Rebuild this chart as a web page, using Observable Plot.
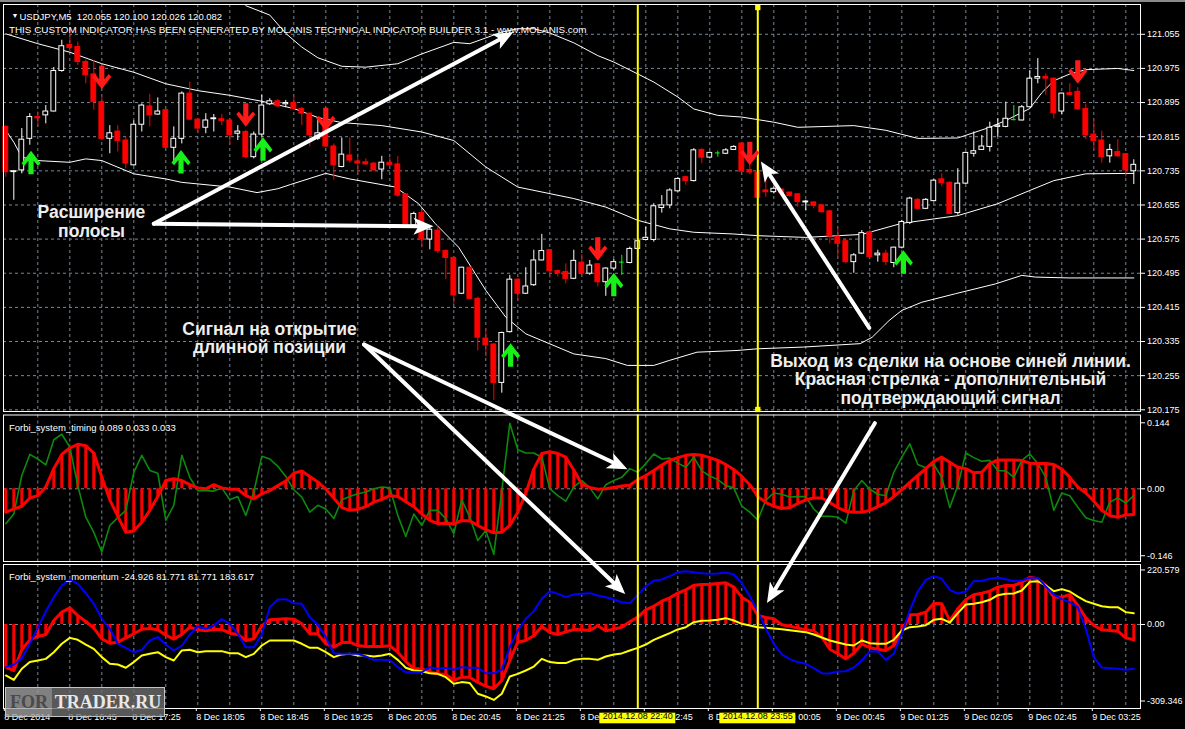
<!DOCTYPE html>
<html><head><meta charset="utf-8">
<script src="https://cdn.jsdelivr.net/npm/d3@7"></script>
<script src="https://cdn.jsdelivr.net/npm/@observablehq/plot@0.6"></script>
<style>
html,body{margin:0;padding:0;background:#000;}
#chart{position:relative;width:1185px;height:729px;background:#000;overflow:hidden;}
#chart svg{position:absolute;left:0;overflow:visible;}
#topstrip{position:absolute;left:0;top:0;width:1185px;height:2px;background:#8a8a8a;}
#wm{position:absolute;left:5px;top:687px;width:160px;height:30px;border:1px solid #c4c4c4;box-sizing:border-box;display:flex;font-family:"Liberation Serif",serif;font-weight:bold;font-size:18px;line-height:28px;z-index:5;}
#wm .a{width:46px;background:rgba(160,160,160,0.8);color:#4a4a4a;text-align:center;}
#wm .b{flex:1;background:rgba(110,110,110,0.8);color:#e8e8e8;text-align:center;}
</style></head><body><div id="chart"><div id="topstrip"></div></div>
<script>
// ---------- candles (USDJPY M5, bar 0 = 8 Dec 16:05) ----------
const open = [120.838,120.732,120.736,120.810,120.861,120.865,120.874,120.969,121.030,121.025,
120.990,120.961,120.896,120.810,120.827,120.806,120.748,120.843,120.886,120.867,
120.877,120.789,120.810,120.916,120.855,120.836,120.856,120.856,120.853,120.822,
120.826,120.767,120.820,120.891,120.898,120.891,120.894,120.880,120.869,120.810,
120.857,120.792,120.744,120.771,120.757,120.755,120.752,120.738,120.754,120.750,
120.680,120.607,120.636,120.574,120.595,120.547,120.531,120.447,120.508,120.435,
120.342,120.328,120.238,120.357,120.480,120.447,120.467,120.525,120.549,120.500,
120.498,120.482,120.520,120.494,120.516,120.474,120.506,120.521,120.519,120.552,
120.573,120.573,120.648,120.654,120.687,120.720,120.711,120.784,120.766,120.777,
120.775,120.784,120.799,120.737,120.731,120.689,120.685,120.691,120.684,120.680,
120.661,120.661,120.654,120.640,120.581,120.570,120.521,120.541,120.591,120.537,
120.541,120.519,120.555,120.613,120.667,120.646,120.664,120.715,120.707,120.636,
120.705,120.775,120.784,120.791,120.838,120.838,120.855,120.853,120.884,120.951,
120.955,120.951,120.874,120.917,120.920,120.880,120.820,120.806,120.769,120.779,
120.774,120.734];
const high = [120.841,120.736,120.834,120.869,120.873,120.888,120.977,121.041,121.068,121.037,
120.995,120.994,120.912,120.841,120.841,120.814,120.852,120.892,120.914,120.906,
120.878,120.838,120.920,120.943,120.857,120.869,120.867,120.867,120.857,120.841,
120.830,120.826,120.912,120.904,120.902,120.900,120.908,120.884,120.870,120.857,
120.861,120.798,120.812,120.812,120.766,120.763,120.755,120.769,120.765,120.769,
120.681,120.638,120.644,120.603,120.607,120.550,120.533,120.509,120.509,120.439,
120.365,120.330,120.357,120.490,120.482,120.508,120.549,120.586,120.550,120.503,
120.517,120.549,120.539,120.525,120.517,120.508,120.527,120.537,120.556,120.576,
120.603,120.658,120.677,120.693,120.719,120.722,120.787,120.787,120.779,120.781,
120.787,120.794,120.800,120.760,120.782,120.720,120.697,120.693,120.685,120.681,
120.666,120.662,120.656,120.642,120.599,120.576,120.541,120.595,120.595,120.549,
120.549,120.556,120.619,120.673,120.670,120.670,120.714,120.728,120.709,120.740,
120.779,120.826,120.818,120.849,120.857,120.896,120.888,120.888,120.969,120.998,
120.962,120.953,120.917,120.939,120.930,120.891,120.855,120.828,120.797,120.808,
120.775,120.761];
const low = [120.720,120.666,120.728,120.795,120.838,120.845,120.873,120.966,121.013,120.982,
120.939,120.877,120.806,120.775,120.779,120.740,120.746,120.826,120.838,120.865,
120.787,120.755,120.798,120.853,120.822,120.822,120.826,120.841,120.795,120.806,
120.763,120.763,120.814,120.888,120.883,120.883,120.877,120.841,120.791,120.806,
120.789,120.713,120.742,120.753,120.727,120.748,120.734,120.714,120.745,120.673,
120.607,120.602,120.555,120.550,120.541,120.480,120.422,120.445,120.433,120.313,
120.299,120.197,120.214,120.355,120.430,120.445,120.464,120.524,120.484,120.486,
120.470,120.480,120.488,120.490,120.463,120.441,120.502,120.490,120.517,120.533,
120.572,120.568,120.636,120.646,120.685,120.701,120.709,120.752,120.763,120.767,
120.773,120.783,120.731,120.726,120.668,120.673,120.681,120.681,120.673,120.650,
120.642,120.646,120.636,120.564,120.529,120.517,120.495,120.539,120.529,120.521,
120.513,120.508,120.552,120.609,120.644,120.644,120.662,120.698,120.633,120.631,
120.703,120.767,120.783,120.779,120.814,120.836,120.852,120.852,120.883,120.939,
120.912,120.857,120.867,120.912,120.877,120.808,120.783,120.753,120.753,120.767,
120.720,120.703];
const close = [120.732,120.734,120.808,120.861,120.858,120.874,120.969,121.027,121.023,120.990,
120.959,120.896,120.810,120.823,120.805,120.752,120.843,120.888,120.865,120.874,
120.789,120.810,120.916,120.855,120.834,120.853,120.858,120.852,120.818,120.827,
120.767,120.820,120.888,120.898,120.886,120.894,120.880,120.869,120.818,120.823,
120.792,120.748,120.773,120.759,120.752,120.750,120.736,120.754,120.748,120.677,
120.609,120.634,120.574,120.597,120.547,120.531,120.443,120.508,120.435,120.344,
120.326,120.238,120.355,120.480,120.447,120.464,120.525,120.547,120.500,120.495,
120.482,120.524,120.494,120.513,120.474,120.506,120.521,120.521,120.552,120.570,
120.578,120.652,120.654,120.689,120.716,120.711,120.783,120.766,120.777,120.777,
120.783,120.791,120.733,120.731,120.672,120.685,120.693,120.683,120.676,120.662,
120.663,120.653,120.638,120.581,120.564,120.521,120.537,120.589,120.533,120.541,
120.521,120.555,120.615,120.670,120.646,120.667,120.712,120.706,120.634,120.705,
120.777,120.781,120.792,120.836,120.841,120.857,120.855,120.884,120.951,120.955,
120.951,120.870,120.916,120.913,120.879,120.818,120.805,120.767,120.784,120.769,
120.736,120.749];

// ---------- bands (bar index / price) ----------
const upperBar = [30,33,35,37,39,42,45,49,52,56,58,62,64,66,68,71,74,76,79,81,84,86,89,92,94,96,99,106,110,114,119,123,125,128,129.5,131,133,135,139,141];
const upperVal = [121.122,121.100,121.057,121.025,121.000,120.980,120.978,120.986,121.009,121.036,121.033,121.060,121.068,121.068,121.058,121.035,121.005,120.990,120.962,120.943,120.908,120.880,120.865,120.861,120.855,120.849,120.837,120.841,120.830,120.811,120.812,120.837,120.853,120.881,120.918,120.946,120.962,120.972,120.975,120.970];
const middleBar = [0,4,8,12,16,20,24,28,32,36,39,42,47,52,56,60,64,71,75,79,83,86,91,94,100,107,112,119,124,128,131,135,141];
const middleVal = [121.056,121.033,121.013,120.986,120.966,120.939,120.923,120.912,120.898,120.881,120.860,120.848,120.841,120.826,120.806,120.744,120.697,120.670,120.650,120.619,120.599,120.591,120.587,120.583,120.579,120.586,120.612,120.630,120.658,120.689,120.712,120.728,120.729];
const lowerBar = [0,1,2,4,8,10,12,16,20,22,28,31.4,34,35.6,40,43,48.7,51.6,53.7,56.6,60,62.5,65,71,75,77.7,81,83,86.4,91.4,94,99.7,106.8,108.3,110.4,112,114.5,118.7,123.7,127,128.7,132.9,141];
const lowerVal = [120.830,120.802,120.767,120.759,120.755,120.763,120.759,120.728,120.716,120.708,120.697,120.684,120.693,120.703,120.729,120.716,120.697,120.658,120.611,120.556,120.455,120.392,120.353,120.306,120.295,120.279,120.279,120.291,120.310,120.314,120.318,120.322,120.330,120.345,120.384,120.408,120.427,120.447,120.470,120.490,120.486,120.484,120.484];

// ---------- signal arrows ----------
const sellBar = [12,30,40,74,93,134];
const sellPrice = [120.953,120.865,120.855,120.551,120.775,120.966];
const buyBar = [3.15,21.9,32.15,63.1,76,112.2];
const buyPrice = [120.755,120.757,120.787,120.304,120.469,120.522];

// ---------- Forbi_system_timing ----------
const timingRed = [-0.051,-0.044,-0.038,-0.020,-0.015,0.004,0.044,0.075,0.089,0.097,
0.094,0.078,0.025,-0.024,-0.060,-0.095,-0.092,-0.073,-0.047,-0.017,
0.018,0.022,0.018,0.009,0.002,0.000,0.009,0.002,-0.001,-0.001,
-0.015,-0.022,-0.011,-0.004,0.007,0.017,0.034,0.039,0.027,0.015,
-0.001,-0.020,-0.041,-0.047,-0.045,-0.039,-0.029,-0.023,-0.015,-0.017,
-0.028,-0.039,-0.055,-0.069,-0.076,-0.075,-0.077,-0.069,-0.070,-0.080,
-0.089,-0.096,-0.095,-0.080,-0.051,-0.010,0.043,0.077,0.081,0.077,
0.069,0.041,0.010,0.003,-0.001,0.000,0.003,0.006,0.008,0.020,
0.029,0.040,0.052,0.062,0.068,0.073,0.075,0.073,0.068,0.062,
0.053,0.042,0.027,0.009,-0.017,-0.030,-0.038,-0.043,-0.041,-0.032,
-0.024,-0.020,-0.020,-0.030,-0.041,-0.049,-0.051,-0.051,-0.047,-0.039,
-0.030,-0.017,-0.002,0.014,0.029,0.044,0.060,0.069,0.058,0.047,
0.044,0.035,0.036,0.055,0.063,0.063,0.063,0.062,0.056,0.055,
0.055,0.053,0.043,0.025,0.004,-0.009,-0.027,-0.047,-0.059,-0.062,
-0.057,-0.056];
const timingGreen = [-0.076,-0.055,0.029,0.075,0.065,0.052,0.107,0.119,0.091,0.007,
-0.062,-0.095,-0.138,-0.080,-0.063,-0.047,0.036,0.073,0.040,0.034,
-0.069,-0.036,0.073,0.025,-0.004,-0.004,-0.005,0.002,-0.024,-0.017,
-0.058,-0.007,0.071,0.065,0.049,0.027,-0.002,-0.018,-0.051,-0.036,
-0.044,-0.065,-0.024,-0.017,-0.011,-0.007,0.000,0.004,0.002,-0.058,
-0.104,-0.055,-0.080,-0.047,-0.047,-0.065,-0.098,-0.024,-0.062,-0.113,
-0.091,-0.143,-0.004,0.143,0.085,0.078,0.078,0.069,0.000,-0.015,
-0.027,0.004,0.018,0.002,-0.022,0.009,0.018,0.025,0.044,0.036,
0.055,0.076,0.065,0.067,0.056,0.047,0.069,0.039,0.028,0.020,
0.007,0.002,-0.038,-0.051,-0.068,-0.025,-0.009,-0.012,-0.018,-0.017,
-0.017,-0.044,-0.060,-0.060,-0.062,-0.075,-0.004,0.018,-0.001,-0.012,
-0.015,0.036,0.069,0.098,0.053,0.046,0.053,0.025,-0.041,0.007,
0.078,0.068,0.060,0.062,0.040,0.039,0.025,0.062,0.076,0.055,
0.025,-0.047,-0.009,-0.015,-0.040,-0.063,-0.069,-0.073,-0.029,-0.020,
-0.031,-0.015];

// ---------- Forbi_system_momentum ----------
const momRed = [-172.5,-186,-102,-62,-48.5,-40.4,16,50,67,36,
12,-15,-58,-75.5,-71.4,-54,-37.7,-19,-16,-21.6,
-43,-59,-40.4,-10.8,-21.6,-25.6,-20,-20,-35,-40.4,
-64.7,-58,-5.4,18.9,21.6,23,21.6,2.7,-37.7,-37.7,
-78,-91.7,-72.8,-71.4,-85,-89,-89,-89,-86,-112,
-150,-179,-179,-193,-199.5,-202,-226,-213,-213,-234.5,
-249,-260,-226,-145.6,-71.4,-64.7,-45.8,-8,-32.4,-40.4,
-29.7,-20,-21.6,-24.3,-5.4,-25.6,-19,-10.8,10.8,29.7,
59.3,74,94,108,126.7,140,159,162,163,166,
168.5,151,110.5,90,36.4,28.3,23,-1.3,-6.7,-14.8,
-21.6,-25.6,-51,-99.8,-118.6,-139,-116,-78,-94,-99.8,
-105,-85,-31,39,40.4,50,86,83.6,16,63.4,
99.8,120,126.7,134.8,151,157.7,157.7,171,191,184.7,
157.7,110.5,110.5,121,76.8,27,-4,-21.6,-24.3,-27,
-54,-62];
const momBlue = [-172.5,-163,-137.5,-78,-13.5,52.6,110.5,157.7,182,164.5,
126.7,83.6,23,-17.5,-78,-94.4,-112,-102.4,-64.7,-51,
-81,-105,-86,-40.4,-8,-17.5,-4,21.6,2.7,-37.7,
-91.7,-91.7,-40.4,70,101,102.4,86,83.6,29.7,-1.3,
-51,-116,-118.6,-118.6,-118.6,-129.4,-143,-143,-144,-172.5,
-193,-193,-193,-172.5,-179,-175,-183,-172.5,-175,-175,
-197,-197,-183,-91.7,-24.3,23,54,103.8,134.8,124,
110.5,121,124,126.7,117,110.5,101,90,86,120,
153.7,178,182,195.5,211.6,215.7,211.6,207.6,205,206.2,
210,202,167,114.6,54,-17.5,-78,-121,-140,-152,
-159,-176.6,-197,-198,-190,-188.7,-174,-145.6,-109,-108,
-143,-118.6,-35,56.6,133.5,180.6,195.5,184.7,140,125.4,
133.5,175,176.6,184.7,190,183.3,175,178,188.7,188.7,
153.7,121,102.4,90,70,-17.5,-132,-174,-176.6,-179,
-183,-179];
const momYellow = [-206,-224,-179,-152,-145.6,-139,-112,-78,-54,-62,
-81,-98.5,-132,-159,-161.8,-175,-152,-125,-118.6,-112,
-132,-145.6,-105,-102.4,-112,-107.8,-107.8,-107.8,-116,-116,
-132,-118.6,-85,-64.7,-64.7,-64.7,-64.7,-78,-94.4,-94.4,
-112,-132,-121,-118.6,-125,-125,-129.4,-125,-118.6,-143,
-175,-186,-188.7,-196.8,-199.5,-213,-240,-233,-237,-280,
-291,-305,-280,-210,-199.5,-186,-170,-139,-152,-156,
-156,-143,-139,-139,-143,-129.4,-121,-117,-105,-94.4,
-81,-62,-48.5,-35,-20,-10.8,9.4,14.8,16,18.9,
25.6,16,2.7,-4,-10.8,-13.5,-16,-19,-23,-27,
-31,-40.4,-52.6,-64.7,-72.8,-81,-85,-64.7,-75.5,-78,
-78,-62,-24.3,-10.8,-8,-2.7,18.9,23,8,45.8,
81,83.6,90,100,118.6,124,125.4,137.5,172.5,175,
157.7,134.8,143,133.5,113,94.4,83.6,74,70,70,
50,45.8];

// ---------- axes / labels ----------
const priceTicks = [121.055,120.975,120.895,120.815,120.735,120.655,120.575,120.495,120.415,120.335,120.255,120.175];
const timingTicks = [0.144,0,-0.146];
const momentumTicks = [220.579,0,-309.346];
const timeTickBars = [0,8,16,24,32,40,48,56,64,72,80,88,96,104,112,120,128,136];
const timeTickLabels = ["8 Dec 2014","8 Dec 16:45","8 Dec 17:25","8 Dec 18:05","8 Dec 18:45","8 Dec 19:25","8 Dec 20:05","8 Dec 20:45","8 Dec 21:25","8 Dec 22:05","8 Dec 22:45","8 Dec 23:25","9 Dec 00:05","9 Dec 00:45","9 Dec 01:25","9 Dec 02:05","9 Dec 02:45","9 Dec 03:25"];
const vLineBars = [79,94];
const vLineLabels = ["2014.12.08 22:40","2014.12.08 23:55"];
const headerLine1 = "USDJPY,M5\u00a0 120.055 120.100 120.026 120.082";
const headerLine2 = "THIS CUSTOM INDICATOR HAS BEEN GENERATED BY MOLANIS TECHNICAL INDICATOR BUILDER 3.1 - www.MOLANIS.com";
const timingTitle = "Forbi_system_timing 0.089 0.033 0.033";
const momentumTitle = "Forbi_system_momentum -24.926 81.771 81.771 183.617";

// ---------- annotations ----------
const noteText = ["Расширение\nполосы","Сигнал на открытие\nдлинной позиции","Выход из сделки на основе синей линии.\nКрасная стрелка - дополнительный\nподтверждающий сигнал"];
const noteBar = [10.71, 32.96, 118.09];
const notePrice = [120.616, 120.3435, 120.2465];
const pointerFromPane = ["main","main","main","main","main","timing"];
const pointerFromBar = [18.5,18.5,44.79,44.79,107.93,108.63];
const pointerFromVal = [120.611,120.611,120.328,120.328,120.367,0.1431];
const pointerToPane = ["main","main","timing","momentum","main","momentum"];
const pointerToBar = [63.34,53.34,77.59,77.34,94.46,95.21];
const pointerToVal = [121.059,120.605,0.0436,126.6,120.755,90.2];

// ---------- build ----------
const W = 1185, XDOM = [-0.2875, 141.8375];
const GRID = "#778899", FONT = "Liberation Sans, Arial, sans-serif";
const gridBars = d3.range(4, 141, 4);
const candles = open.map((o, i) => ({i, o, h: high[i], l: low[i], c: close[i]}));
const candleColor = d => d.c > d.o ? "white" : d.c < d.o ? "#ff0000" : "#00ff00";
const downArrow = {draw(c){c.moveTo(-2.6,-12);c.lineTo(2.6,-12);c.lineTo(2.6,1.5);c.lineTo(7,-3.8);c.lineTo(9.5,-1);c.lineTo(0,11.5);c.lineTo(-9.5,-1);c.lineTo(-7,-3.8);c.lineTo(-2.6,1.5);c.closePath();}};
const upArrow = {draw(c){c.moveTo(-2.6,12);c.lineTo(2.6,12);c.lineTo(2.6,-1.5);c.lineTo(7,3.8);c.lineTo(9.5,1);c.lineTo(0,-11.5);c.lineTo(-9.5,1);c.lineTo(-7,3.8);c.lineTo(-2.6,-1.5);c.closePath();}};
const headSymbol = {draw(c){c.moveTo(1,0);c.lineTo(-19,-8.5);c.lineTo(-14,0);c.lineTo(-19,8.5);c.closePath();}};
const baseStyle = {background: "transparent", color: "white", fontFamily: FONT, fontSize: "9px", overflow: "visible"};
const vgrid = () => Plot.ruleX(gridBars, {stroke: GRID, strokeDasharray: "3,3", strokeWidth: 1});
const fmtSub = d => d === 0 ? "0.00" : String(d);

const mainPlot = Plot.plot({
  width: W, height: 412, marginLeft: 3, marginRight: 45, marginTop: 4, marginBottom: 1,
  x: {domain: XDOM, axis: null}, y: {domain: [120.171, 121.1248], axis: null},
  style: baseStyle,
  marks: [
    vgrid(),
    Plot.ruleY(priceTicks, {stroke: GRID, strokeDasharray: "3,3"}),
    Plot.line(upperBar, {x: d => d, y: (d, i) => upperVal[i], stroke: "white", strokeWidth: 1}),
    Plot.line(middleBar, {x: d => d, y: (d, i) => middleVal[i], stroke: "white", strokeWidth: 1}),
    Plot.line(lowerBar, {x: d => d, y: (d, i) => lowerVal[i], stroke: "white", strokeWidth: 1}),
    Plot.ruleX(candles, {x: "i", y1: "l", y2: "h", stroke: candleColor, strokeWidth: 1}),
    Plot.rect(candles.filter(d => d.o !== d.c), {x1: d => d.i - 0.3, x2: d => d.i + 0.3, y1: d => Math.min(d.o, d.c), y2: d => Math.max(d.o, d.c), fill: d => d.c < d.o ? "#ff0000" : "black", stroke: candleColor, strokeWidth: 1}),
    Plot.ruleY(candles.filter(d => d.o === d.c), {y: "o", x1: d => d.i - 0.3, x2: d => d.i + 0.3, stroke: "#00ff00"}),
    Plot.ruleX(vLineBars, {stroke: "#ffff00", strokeWidth: 2}),
    Plot.dot(sellBar, {x: d => d, y: (d, i) => sellPrice[i], symbol: downArrow, fill: "#ff1a1a", stroke: "none"}),
    Plot.dot(buyBar, {x: d => d, y: (d, i) => buyPrice[i], symbol: upArrow, fill: "#19f019", stroke: "none"}),
    Plot.frame({stroke: "white"}),
    Plot.axisY({anchor: "right", ticks: priceTicks, tickFormat: d => d.toFixed(3), tickSize: 4, tickPadding: 2.5, fontSize: 9, stroke: "white", fill: "white", label: null}),
    Plot.text(["\u25BC"], {frameAnchor: "top-left", dx: 8, dy: 8.5, fontSize: 7, fill: "white"}),
    Plot.text([headerLine1], {frameAnchor: "top-left", dx: 16, dy: 8.7, textAnchor: "start", fontSize: 9.5, fill: "white"}),
    Plot.text([headerLine2], {frameAnchor: "top-left", dx: 5.4, dy: 21, textAnchor: "start", fontSize: 9.9, fill: "white"}),
    Plot.text(noteText, {x: (d, i) => noteBar[i], y: (d, i) => notePrice[i], text: d => d, fontSize: 17.5, fontWeight: "bold", lineHeight: 1.06, fill: "#eeeeee", textAnchor: "middle", lineAnchor: "middle"}),
    Plot.dot([94], {x: d => d, frameAnchor: "top", dy: 3, symbol: "square", r: 3, fill: "#ffff00", stroke: "none"}),
    Plot.dot([94], {x: d => d, frameAnchor: "bottom", dy: -2, symbol: "square", r: 3, fill: "#ffff00", stroke: "none"})
  ]
});

const timingPlot = Plot.plot({
  width: W, height: 150, marginLeft: 3, marginRight: 45, marginTop: 2.5, marginBottom: 1,
  x: {domain: XDOM, axis: null}, y: {domain: [-0.1586, 0.161], axis: null},
  style: baseStyle,
  marks: [
    vgrid(),
    Plot.ruleY([0], {stroke: GRID, strokeDasharray: "3,3"}),
    Plot.ruleX(timingRed, {x: (d, i) => i, y1: 0, y2: d => d, stroke: "#ff0000", strokeWidth: 3}),
    Plot.line(timingGreen, {x: (d, i) => i, y: d => d, stroke: "#0b8a0b", strokeWidth: 1.6}),
    Plot.line(timingRed, {x: (d, i) => i, y: d => d, stroke: "#ff0000", strokeWidth: 3}),
    Plot.ruleX(vLineBars, {stroke: "#ffff00", strokeWidth: 2}),
    Plot.frame({stroke: "white"}),
    Plot.axisY({anchor: "right", ticks: timingTicks, tickFormat: fmtSub, tickSize: 4, tickPadding: 2.5, fontSize: 9, stroke: "white", fill: "white", label: null}),
    Plot.text([timingTitle], {frameAnchor: "top-left", dx: 5.4, dy: 8.8, textAnchor: "start", fontSize: 9.5, fill: "white"})
  ]
});

const tickLabel = new Map(timeTickBars.map((b, i) => [b, timeTickLabels[i]]));
const vLabel = new Map(vLineBars.map((b, i) => [b, vLineLabels[i]]));
const momentumPlot = Plot.plot({
  width: W, height: 167, marginLeft: 3, marginRight: 45, marginTop: 2, marginBottom: 21,
  x: {domain: XDOM, axis: null}, y: {domain: [-339.7, 242.6], axis: null},
  style: baseStyle,
  marks: [
    vgrid(),
    Plot.ruleY([0], {stroke: GRID, strokeDasharray: "3,3"}),
    Plot.ruleX(momRed, {x: (d, i) => i, y1: 0, y2: d => d, stroke: "#ff0000", strokeWidth: 3}),
    Plot.line(momRed, {x: (d, i) => i, y: d => d, stroke: "#ff0000", strokeWidth: 3}),
    Plot.line(momYellow, {x: (d, i) => i, y: d => d, stroke: "#ffff00", strokeWidth: 2}),
    Plot.line(momBlue, {x: (d, i) => i, y: d => d, stroke: "#0000ff", strokeWidth: 2}),
    Plot.ruleX(vLineBars, {stroke: "#ffff00", strokeWidth: 2}),
    Plot.frame({stroke: "white"}),
    Plot.axisY({anchor: "right", ticks: momentumTicks, tickFormat: fmtSub, tickSize: 4, tickPadding: 2.5, fontSize: 9, stroke: "white", fill: "white", label: null}),
    Plot.axisX({anchor: "bottom", ticks: timeTickBars, tickFormat: d => tickLabel.get(d), tickSize: 3, tickPadding: 2, textAnchor: "start", dx: -1.5, fontSize: 9, stroke: "white", fill: "white", label: null}),
    Plot.rect(vLineBars, {x1: d => d - 4.75, x2: d => d + 4.75, fill: "#ffff00", insetTop: 148.7, insetBottom: -15.3}),
    Plot.text(vLineBars, {x: d => d, text: d => vLabel.get(d), frameAnchor: "bottom", dy: 10.3, fontSize: 9, fill: "black"}),
    Plot.text([momentumTitle], {frameAnchor: "top-left", dx: 5.4, dy: 8.7, textAnchor: "start", fontSize: 9.5, fill: "white"})
  ]
});

const chart = document.getElementById("chart");
const panes = {main: {plot: mainPlot, top: 0}, timing: {plot: timingPlot, top: 412}, momentum: {plot: momentumPlot, top: 562}};
for (const k of ["main", "timing", "momentum"]) {
  const p = panes[k];
  p.plot.style.top = p.top + "px";
  chart.appendChild(p.plot);
}
function scaleFn(plot, name) {
  const s = plot.scale(name);
  return s.apply ? (v => s.apply(v)) : d3.scaleLinear(s.domain, s.range);
}
function toPage(pane, bar, val) {
  const p = panes[pane];
  return [scaleFn(p.plot, "x")(bar), p.top + scaleFn(p.plot, "y")(val)];
}
const pointers = pointerFromPane.map((fp, i) => {
  const a = toPage(fp, pointerFromBar[i], pointerFromVal[i]);
  const b = toPage(pointerToPane[i], pointerToBar[i], pointerToVal[i]);
  const ang = Math.atan2(b[1] - a[1], b[0] - a[0]);
  return {x1: a[0], y1: a[1], x2: b[0], y2: b[1], xs: b[0] - 13 * Math.cos(ang), ys: b[1] - 13 * Math.sin(ang), rot: ang * 180 / Math.PI};
});
const overlay = Plot.plot({
  width: W, height: 729, margin: 0,
  x: {type: "identity", axis: null}, y: {type: "identity", axis: null},
  style: {background: "transparent", overflow: "visible", pointerEvents: "none"},
  marks: [
    Plot.link(pointers, {x1: "x1", y1: "y1", x2: "xs", y2: "ys", stroke: "white", strokeWidth: 4, strokeLinecap: "round"}),
    Plot.dot(pointers, {x: "x2", y: "y2", rotate: "rot", symbol: headSymbol, fill: "white", stroke: "none"})
  ]
});
overlay.style.top = "0px";
chart.appendChild(overlay);
const wm = document.createElement("div");
wm.id = "wm";
wm.innerHTML = '<span class="a">FOR</span><span class="b">TRADER.RU</span>';
chart.appendChild(wm);
</script></body></html>
